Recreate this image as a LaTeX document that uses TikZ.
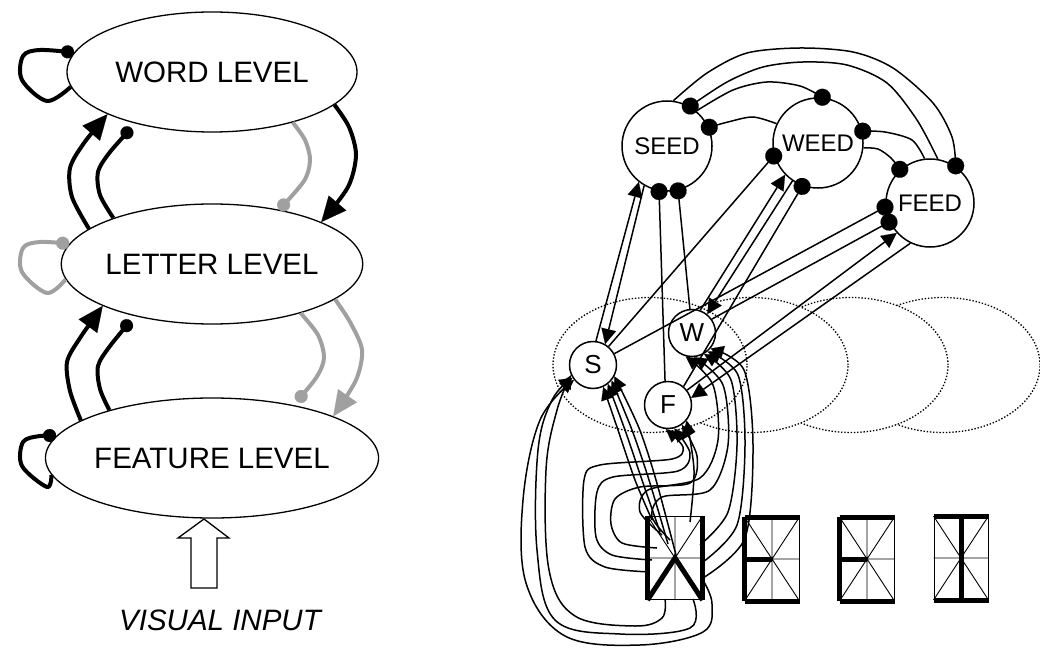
\documentclass[tikz,border=0pt]{standalone}
\usepackage{fontspec}
\setmainfont{Liberation Sans}
\usetikzlibrary{arrows.meta,shapes.geometric}
\definecolor{grayc}{RGB}{160,160,160}
\begin{document}
\begin{tikzpicture}[x=1pt,y=-1pt,
  lvl/.style={ellipse, draw, line width=1.3pt, minimum width=290pt, minimum height=120pt, inner sep=0pt, font=\fontsize{29.5}{34}\selectfont},
  thk/.style={line width=4pt, line join=round},
  exc/.style={-{Triangle[length=25pt,width=23pt,line width=0.1pt]}},
  inh/.style={-{Circle[length=13pt,line width=0.1pt]}},
  gry/.style={draw=grayc, color=grayc},
  wnode/.style={circle, draw, fill=white, line width=1.5pt, minimum size=90pt, inner sep=0pt, font=\fontsize{24}{28}\selectfont},
  lnode/.style={circle, draw, fill=white, line width=1.5pt, minimum size=47pt, inner sep=0pt, font=\fontsize{26}{30}\selectfont},
  pool/.style={ellipse, draw, fill=white, line width=1.3pt, dash pattern=on 1.4pt off 1.8pt, minimum width=194pt, minimum height=135pt, inner sep=0pt},
  ln/.style={line width=1.5pt},
  thin/.style={line width=0.9pt},
  ex/.style={ln, -{Triangle[length=15pt,width=15pt,line width=0.1pt]}},
  ih/.style={ln, -{Circle[length=17pt,line width=0.1pt]}, shorten >=-8pt},
  fbox/.style={rectangle, draw, line width=1pt, minimum width=54pt, minimum height=83pt, inner sep=0pt},
  seg/.style={line width=5pt},
  tg/.style={line width=1.5pt, -{Triangle[length=13pt,width=13pt,line width=0.1pt]}}
]
\useasboundingbox (0,0) rectangle (1040,647);
\fill[white] (0,0) rectangle (1040,647);

% ---------------- left: levels ----------------
\node[lvl] (word) at (212,72) {WORD LEVEL};
\node[lvl] (letter) at (212,264) {LETTER LEVEL};
\node[lvl] (feature) at (212,458) {FEATURE LEVEL};

% self loops
\draw[thk, inh] plot[smooth, tension=0.55] coordinates {(word.186) (47,101) (22,80) (23,56) (40,50) (word.172)};
\draw[thk, inh, gry] plot[smooth, tension=0.55] coordinates {(letter.186) (47,293) (22,272) (23,248) (40,242) (letter.172)};
\draw[thk, inh] plot[smooth, tension=0.55] coordinates {(feature.186) (47,487) (22,466) (23,442) (40,436) (feature.172)};

% letter <-> word
\draw[thk, exc] plot[smooth] coordinates {(letter.164) (72,197) (70,168) (84,143) (word.202)};
\draw[thk, inh, shorten >=6pt] plot[smooth] coordinates {(letter.155) (100,195) (98,172) (110,152) (word.214)};
\draw[thk, exc] plot[smooth] coordinates {(word.345) (349,127) (356,155) (348,187) (letter.21)};
\draw[thk, inh, gry] plot[smooth] coordinates {(word.328) (305,140) (310,160) (304,181) (letter.39)};

% feature <-> letter
\draw[thk, exc] plot[smooth] coordinates {(feature.164) (70,391) (67,362) (80,338) (letter.201)};
\draw[thk, inh, shorten >=6pt] plot[smooth] coordinates {(feature.155) (100,389) (98,366) (110,346) (letter.214)};
\draw[thk, inh, gry, shorten >=5pt] plot[smooth] coordinates {(letter.331) (318,335) (324,358) (316,378) (feature.33)};
\draw[thk, exc, gry] plot[smooth] coordinates {(letter.344) (350,322) (362,350) (356,380) (feature.19)};

% visual input
\draw[line width=1.3pt, line join=miter] (191,588) -- (217,588) -- (217,538) -- (229,538) -- (204,519) -- (178,538) -- (191,538) -- cycle;
\node[font=\itshape\fontsize{29.5}{34}\selectfont] (vi) at (220,620) {VISUAL INPUT};

% ---------------- right: pools ----------------
\node[pool] (p4) at (943,365) {};
\node[pool] (p3) at (851,365) {};
\node[pool] (p2) at (751,365) {};
\node[pool] (p1) at (650,365) {};

\node[wnode] (seed) at (667,146) {SEED};
\node[wnode] (weed) at (818,143) {WEED};
\node[wnode, minimum size=88pt] (feed) at (930,203) {FEED};

\node[lnode] (S) at (593,365) {S};
\node[lnode] (W) at (692,333) {W};
\node[lnode] (F) at (668,405) {F};

% feature displays
\node[fbox] (b1) at (675,558) {};
\node[fbox] (b2) at (772,559) {};
\node[fbox] (b3) at (867,559) {};
\node[fbox] (b4) at (961,558) {};
\foreach \b in {b1,b2,b3,b4} {
  \draw[thin] (\b.north) -- (\b.south) (\b.west) -- (\b.east)
            (\b.north west) -- (\b.south east) (\b.north east) -- (\b.south west);
}
% W
\draw[seg] (b1.north west) -- (b1.south west);
\draw[seg] (b1.north east) -- (b1.south east);
\draw[seg, line join=miter] (b1.south west) -- (b1.center) -- (b1.south east);
% E
\foreach \b in {b2,b3} {
  \draw[seg] (\b.north west) -- (\b.north east);
  \draw[seg] (\b.north west) -- (\b.south west);
  \draw[seg] (\b.west) -- (\b.center);
  \draw[seg] (\b.south west) -- (\b.south east);
}
% D
\draw[seg] (b4.north west) -- (b4.north east);
\draw[seg] (b4.north) -- (b4.south);
\draw[seg] (b4.south west) -- (b4.south east);

% word-word inhibition
\draw[ih] plot[smooth] coordinates {(seed.82) (707,73) (747,53) (800,48) (853,52) (893,68) (933,103) (952,137) (feed.55)};
\draw[ih] plot[smooth] coordinates {(feed.80) (917,120) (887,83) (847,65) (803,62) (763,67) (727,82) (seed.60)};
\draw[ih] plot[smooth] coordinates {(seed.50) (733,90) (767,82) (800,86) (weed.84)};
\draw[ih] plot[smooth] coordinates {(weed.155) (753,117) (728,122) (seed.24)};
\draw[ih] plot[smooth] coordinates {(feed.97) (912,140) (885,132) (weed.15)};
\draw[ih] plot[smooth] coordinates {(weed.354) (878,149) (891,158) (feed.132)};

% letter-word
\draw[ex] (S.83) -- (seed.232);
\draw[ex] (seed.240) -- (S.60);
\draw[ih] (F.97) -- (seed.260);
\draw[ih] (W.95) -- (seed.284);
\draw[ih] (S.50) -- (weed.196);
\draw[ex] (W.70) -- (weed.224);
\draw[ex] (weed.236) -- (W.51);
\draw[ih] (F.50) -- (weed.250);
\draw[ih] (S.28) -- (feed.185);
\draw[ih] (W.35) -- (feed.205);
\draw[ex] (F.38) -- (feed.222);
\draw[ex] (feed.244) -- (F.17);

% feature -> letter tangle
% outer loops to S
\draw[tg] plot[smooth, tension=0.6] coordinates {(665,599) (662,618) (635,626) (575,616) (549,570) (546,470) (557,410) (S.205)};
\draw[tg] plot[smooth, tension=0.6] coordinates {(693,599) (690,628) (620,634) (555,620) (537,550) (538,450) (552,400) (S.212)};
\draw[tg] plot[smooth, tension=0.6] coordinates {(704,582) (712,604) (703,632) (640,645) (565,636) (526,583) (523,500) (540,420) (S.218)};
% bundle to S
\draw[tg] plot[smooth] coordinates {(652,520) (635,480) (618,430) (S.295)};
\draw[tg] plot[smooth] coordinates {(660,532) (642,480) (625,430) (S.308)};
\draw[tg] plot[smooth] coordinates {(668,544) (649,480) (632,430) (S.320)};
\draw[tg] plot[smooth] coordinates {(676,555) (656,480) (639,428) (S.332)};
% loops to F
\draw[tg] plot[smooth, tension=0.5] coordinates {(650,572) (605,567) (585,547) (584,480) (600,465) (672,459) (683,447) (F.265)};
\draw[tg] plot[smooth, tension=0.5] coordinates {(652,560) (612,555) (596,537) (597,492) (613,477) (678,471) (690,453) (F.285)};
\draw[tg] plot[smooth, tension=0.5] coordinates {(657,548) (622,543) (611,524) (615,499) (640,487) (690,483) (697,456) (F.305)};
\draw[tg] plot[smooth] coordinates {(690,522) (694,470) (F.320)};
% to W
\draw[tg] plot[smooth, tension=0.5] coordinates {(662,535) (640,512) (648,490) (700,478) (718,440) (713,385) (W.255)};
\draw[tg] plot[smooth, tension=0.5] coordinates {(670,540) (652,517) (662,497) (710,490) (728,445) (723,385) (W.275)};
\draw[tg] plot[smooth] coordinates {(700,545) (728,512) (737,445) (731,380) (W.300)};
\draw[tg] plot[smooth] coordinates {(703,562) (737,525) (745,445) (738,375) (W.310)};
\draw[tg] plot[smooth] coordinates {(703,578) (745,538) (753,445) (744,370) (W.320)};
\end{tikzpicture}
\end{document}
